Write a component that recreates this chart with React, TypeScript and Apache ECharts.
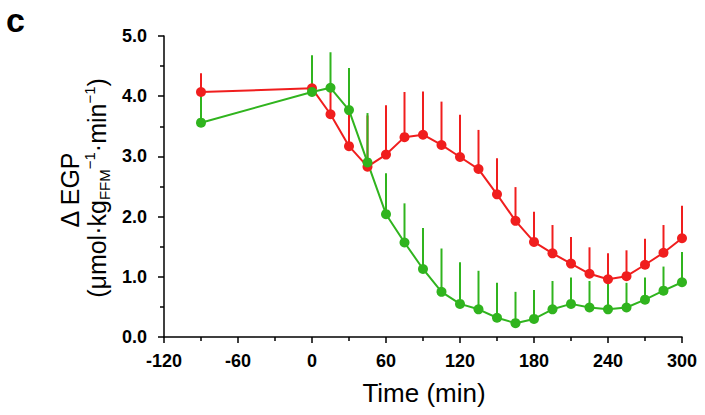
import React, { useEffect, useRef } from "react";
import * as echarts from "echarts";

const times = [-90, 0, 15, 30, 45, 60, 75, 90, 105, 120, 135, 150, 165, 180, 195, 210, 225, 240, 255, 270, 285, 300];
const redMean = [4.07, 4.13, 3.70, 3.17, 2.83, 3.03, 3.32, 3.36, 3.19, 2.99, 2.79, 2.37, 1.93, 1.58, 1.39, 1.22, 1.05, 0.96, 1.01, 1.20, 1.40, 1.64];
const redErr = [0.31, 0.45, 0.45, 0.65, 0.85, 0.82, 0.75, 0.72, 0.72, 0.70, 0.65, 0.60, 0.56, 0.50, 0.47, 0.44, 0.44, 0.43, 0.43, 0.43, 0.46, 0.54];
const greenMean = [3.56, 4.07, 4.14, 3.77, 2.90, 2.04, 1.57, 1.13, 0.75, 0.55, 0.46, 0.32, 0.23, 0.30, 0.46, 0.55, 0.49, 0.46, 0.49, 0.62, 0.77, 0.91];
const greenErr = [0.47, 0.61, 0.59, 0.70, 0.82, 0.68, 0.65, 0.68, 0.72, 0.69, 0.64, 0.58, 0.52, 0.48, 0.47, 0.44, 0.44, 0.44, 0.41, 0.37, 0.40, 0.50];

const RED = "#f01e1e";
const GREEN = "#30b41e";
const FONT = "'Liberation Sans', Arial, Helvetica, sans-serif";

function errSeries(mean: number[], err: number[], color: string) {
  return {
    type: "custom",
    data: times.map((t, i) => [t, mean[i], err[i]]),
    encode: { x: 0, y: 1 },
    renderItem: (_params: any, api: any) => {
      const x = api.value(0);
      const y = api.value(1);
      const e = api.value(2);
      const p0 = api.coord([x, y]);
      const p1 = api.coord([x, y + e]);
      return {
        type: "line",
        shape: { x1: p0[0], y1: p0[1], x2: p1[0], y2: p1[1] },
        style: { stroke: color, lineWidth: 2 },
      };
    },
  };
}

function lineSeries(mean: number[], color: string) {
  return {
    type: "line",
    data: times.map((t, i) => [t, mean[i]]),
    symbol: "circle",
    symbolSize: 10,
    showSymbol: true,
    lineStyle: { color, width: 2 },
    itemStyle: { color },
  };
}

export default function App() {
  const ref = useRef<HTMLDivElement>(null);
  useEffect(() => {
    if (!ref.current) return;
    const chart = echarts.init(ref.current, null, { renderer: "svg" });
    const axisCommon = {
      axisLine: { show: true, lineStyle: { color: "#000", width: 1.5 } },
      axisTick: { show: true, length: 6, lineStyle: { color: "#000", width: 1.5 } },
      minorTick: { show: true, splitNumber: 2, length: 4, lineStyle: { color: "#000", width: 1.5 } },
      splitLine: { show: false },
    };
    chart.setOption({
      animation: false,
      backgroundColor: "#fff",
      grid: { left: 164, right: 23, top: 36, bottom: 78, outerBoundsMode: "none" },
      xAxis: {
        type: "value",
        min: -120,
        max: 300,
        interval: 60,
        ...axisCommon,
        axisLabel: { color: "#000", fontFamily: FONT, fontWeight: "bold", fontSize: 18, margin: 15 },
      },
      yAxis: {
        type: "value",
        min: 0,
        max: 5,
        interval: 1,
        ...axisCommon,
        axisLine: { show: true, onZero: false, lineStyle: { color: "#000", width: 1.5 } },
        axisLabel: {
          color: "#000",
          fontFamily: FONT,
          fontWeight: "bold",
          fontSize: 18,
          margin: 17,
          formatter: (v: number) => v.toFixed(1),
        },
      },
      graphic: [
        {
          type: "text",
          x: 6,
          y: 6,
          style: { text: "c", font: `bold 34px ${FONT}`, lineHeight: 28, fill: "#000", align: "left", verticalAlign: "top" },
        },
        {
          type: "text",
          x: 424,
          y: 393,
          style: { text: "Time (min)", font: `26px ${FONT}`, fill: "#000", align: "center", verticalAlign: "middle" },
        },
        {
          type: "text",
          x: 70,
          y: 190,
          rotation: Math.PI / 2,
          style: { text: "Δ EGP", font: `25px ${FONT}`, fill: "#000", align: "center", verticalAlign: "middle" },
        },
        {
          type: "text",
          x: 97,
          y: 188,
          rotation: Math.PI / 2,
          style: {
            text: "{a|(μmol·kg}{b|FFM}{c|−1}{a|·min}{c|−1}{a|)}",
            fill: "#000",
            align: "center",
            verticalAlign: "middle",
            rich: {
              a: { fontFamily: FONT, fontSize: 25, lineHeight: 30, fill: "#000" },
              b: { fontFamily: FONT, fontSize: 15, lineHeight: 16, verticalAlign: "bottom", fill: "#000" },
              c: { fontFamily: FONT, fontSize: 15, lineHeight: 16, verticalAlign: "top", fill: "#000" },
            },
          },
        },
      ],
      series: [
        errSeries(redMean, redErr, RED),
        lineSeries(redMean, RED),
        errSeries(greenMean, greenErr, GREEN),
        lineSeries(greenMean, GREEN),
      ],
    });
    return () => chart.dispose();
  }, []);
  return <div ref={ref} style={{ position: "fixed", left: 0, top: 0, width: 705, height: 415 }} />;
}
